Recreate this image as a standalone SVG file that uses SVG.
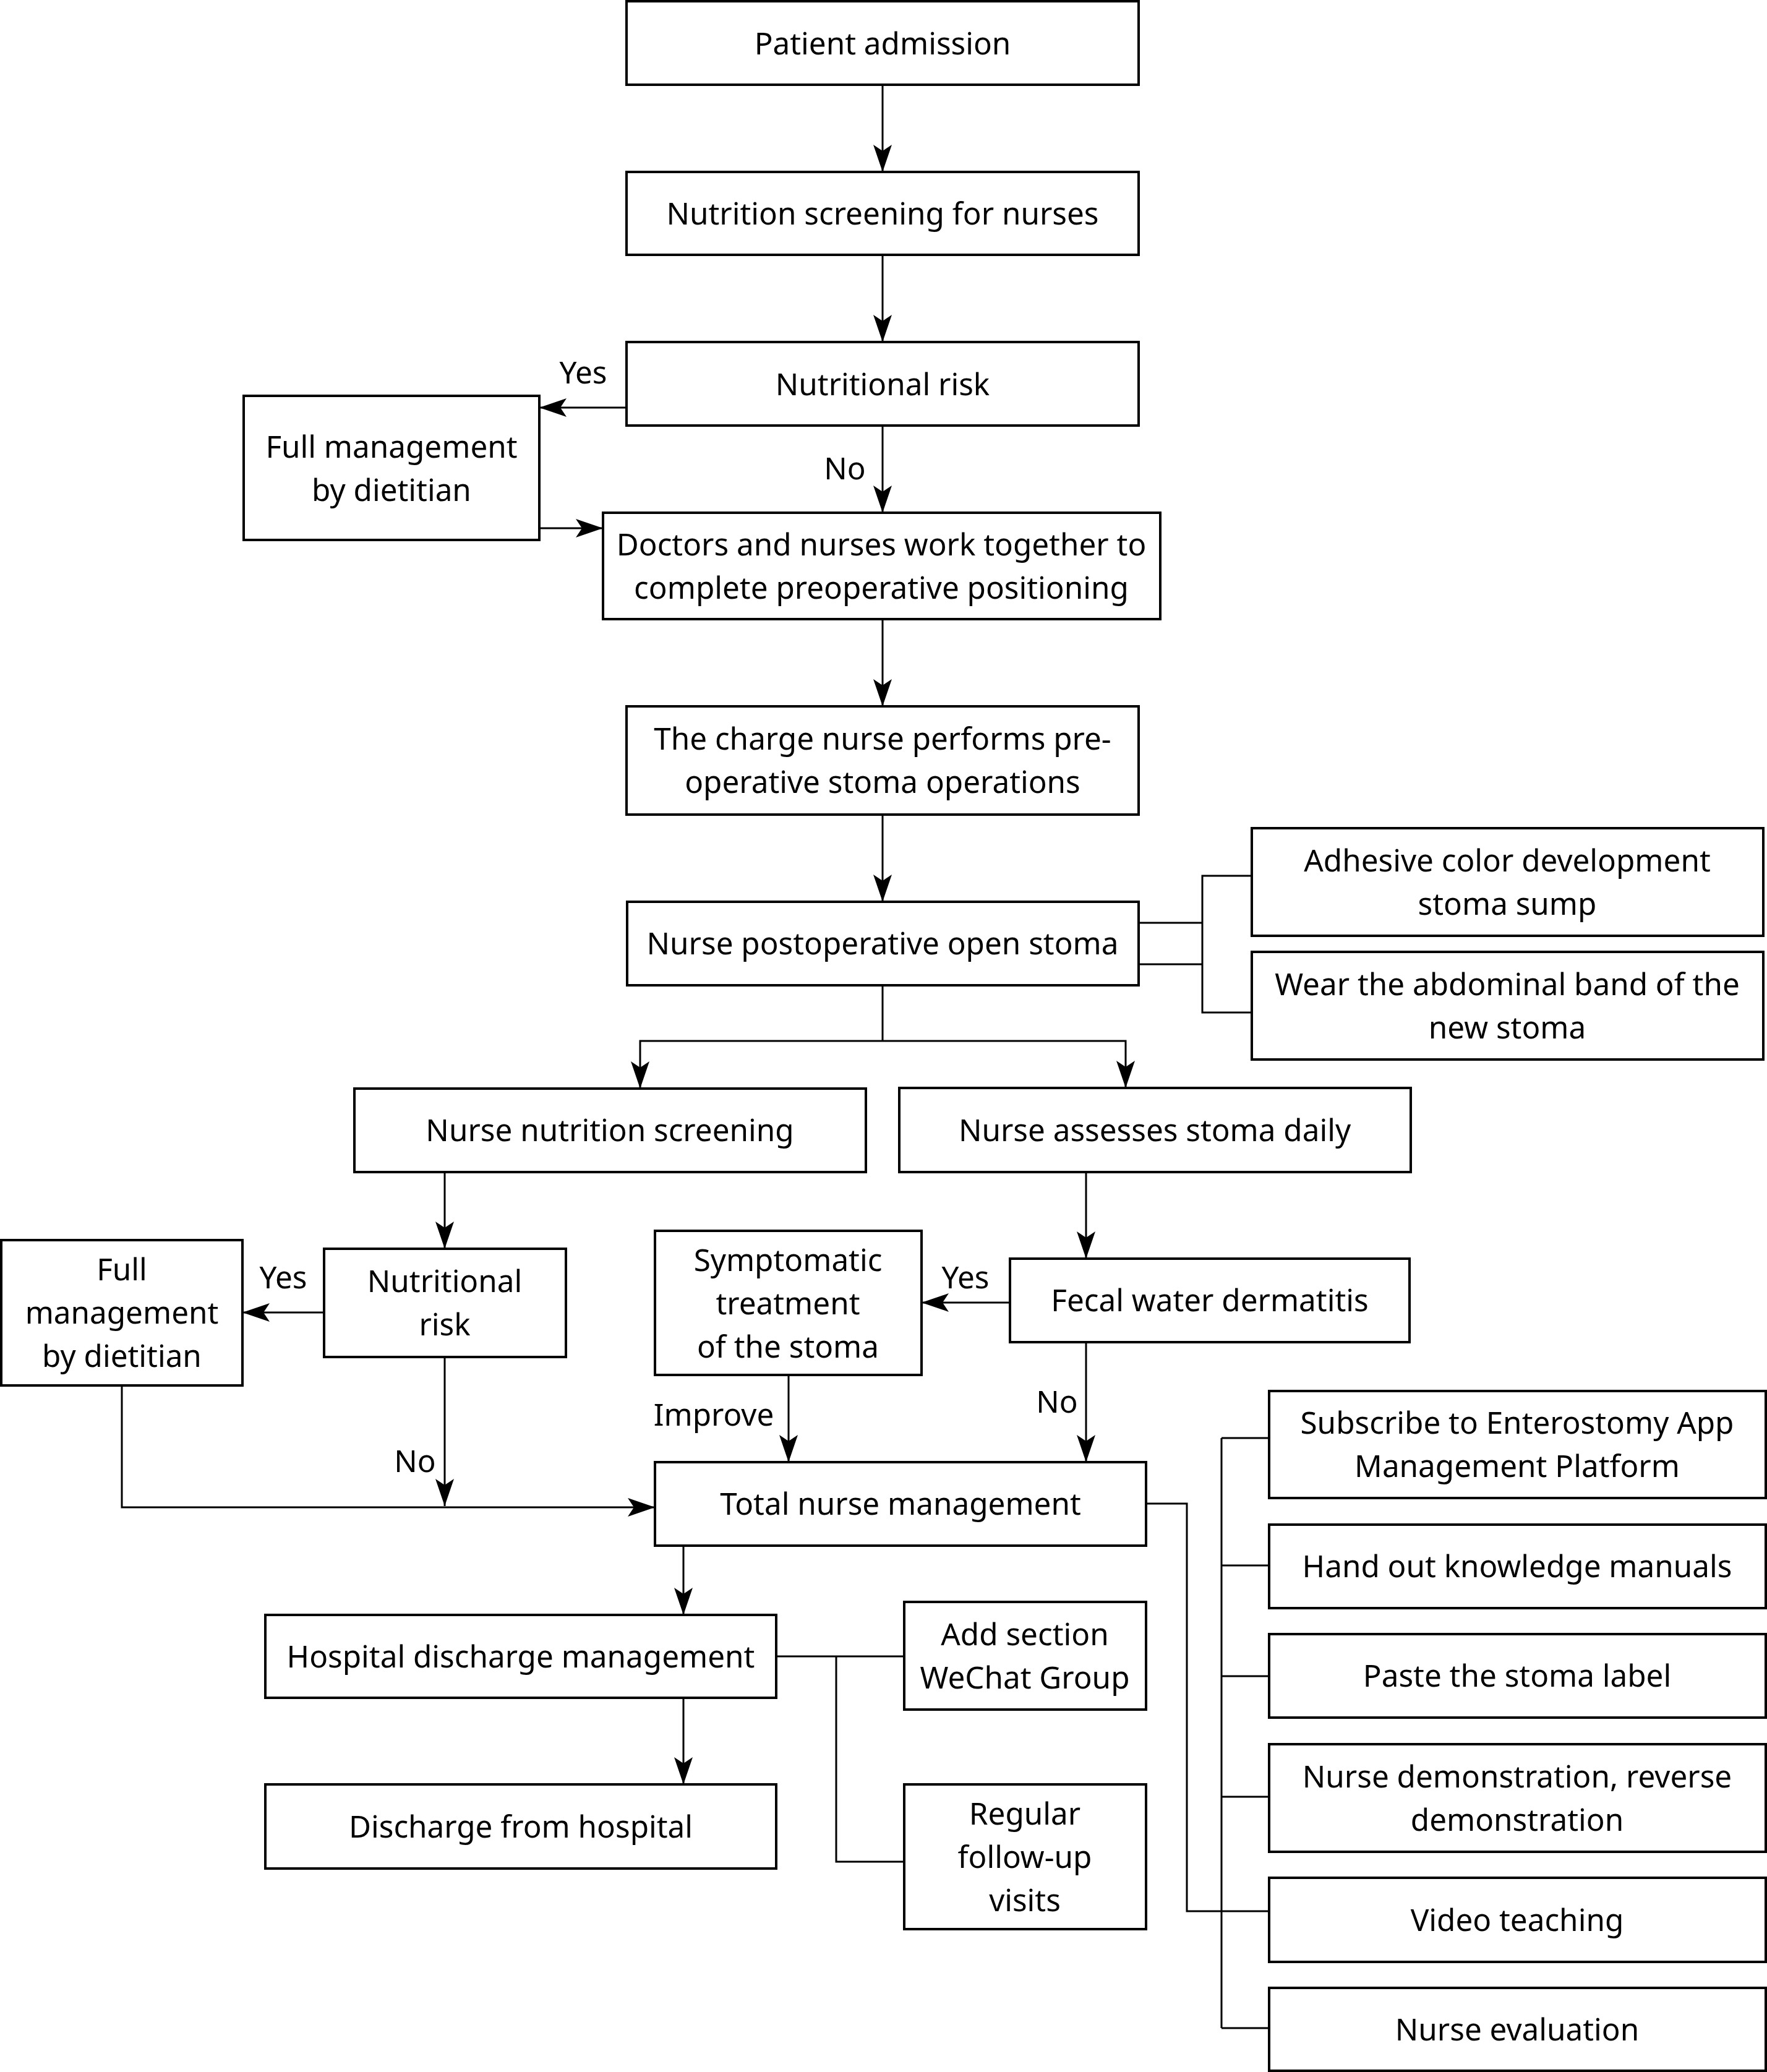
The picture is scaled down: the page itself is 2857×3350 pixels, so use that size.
<svg xmlns="http://www.w3.org/2000/svg" width="2857" height="3350" viewBox="0 0 2857 3350">
<style>
.box{fill:#fff;stroke:#000;stroke-width:4}
.t{font-family:"Noto Sans","Open Sans","DejaVu Sans",sans-serif;font-size:49.4px;fill:#000;text-anchor:middle}
.c{fill:none;stroke:#000;stroke-width:3}
.a{fill:none;stroke:#000;stroke-width:3;marker-end:url(#ah)}
</style>
<defs>
<marker id="ah" markerUnits="userSpaceOnUse" markerWidth="46" markerHeight="32" refX="44" refY="15" orient="auto" viewBox="0 0 46 32">
<path d="M0,0 L44,15 L0,30 L10,15 z" fill="#000"/>
</marker>
</defs>
<rect width="2857" height="3350" fill="#fff"/>
<g id="connectors">
<line class="a" x1="1427" y1="137" x2="1427" y2="278"/>
<line class="a" x1="1427" y1="412" x2="1427" y2="553"/>
<line class="a" x1="1013" y1="659" x2="872" y2="659"/>
<line class="a" x1="1427" y1="688" x2="1427" y2="829"/>
<line class="a" x1="872" y1="854" x2="975" y2="854"/>
<line class="a" x1="1427" y1="1001" x2="1427" y2="1142"/>
<line class="a" x1="1427" y1="1317" x2="1427" y2="1458"/>
<polyline class="c" points="1841,1492 1944,1492"/>
<polyline class="c" points="1841,1559 1944,1559"/>
<polyline class="c" points="2024,1416 1944,1416 1944,1637 2024,1637"/>
<line class="c" x1="1427" y1="1593" x2="1427" y2="1683"/>
<polyline class="a" points="1427,1683 1035,1683 1035,1760"/>
<polyline class="a" points="1427,1683 1820,1683 1820,1759"/>
<line class="a" x1="719" y1="1895" x2="719" y2="2019"/>
<line class="a" x1="524" y1="2122" x2="392" y2="2122"/>
<line class="a" x1="1756" y1="1895" x2="1756" y2="2035"/>
<line class="a" x1="1633" y1="2106" x2="1490" y2="2106"/>
<line class="a" x1="1756" y1="2170" x2="1756" y2="2364"/>
<line class="a" x1="1275" y1="2223" x2="1275" y2="2364"/>
<line class="a" x1="719" y1="2194" x2="719" y2="2435"/>
<polyline class="a" points="197,2240 197,2437 1059,2437"/>
<line class="a" x1="1105" y1="2499" x2="1105" y2="2611"/>
<line class="a" x1="1105" y1="2745" x2="1105" y2="2885"/>
<line class="c" x1="1255" y1="2678" x2="1462" y2="2678"/>
<polyline class="c" points="1352,2678 1352,3010 1462,3010"/>
<polyline class="c" points="1853,2431 1919,2431 1919,3090 1975,3090"/>
<line class="c" x1="1975" y1="2325" x2="1975" y2="3279"/>
<line class="c" x1="1975" y1="2325" x2="2052" y2="2325"/>
<line class="c" x1="1975" y1="2531" x2="2052" y2="2531"/>
<line class="c" x1="1975" y1="2710" x2="2052" y2="2710"/>
<line class="c" x1="1975" y1="2905" x2="2052" y2="2905"/>
<line class="c" x1="1975" y1="3090" x2="2052" y2="3090"/>
<line class="c" x1="1975" y1="3279" x2="2052" y2="3279"/>
<text class="t" x="943" y="620">Yes</text>
<text class="t" x="1366" y="775">No</text>
<text class="t" x="458" y="2083">Yes</text>
<text class="t" x="1561" y="2083">Yes</text>
<text class="t" x="1709" y="2284">No</text>
<text class="t" x="1154" y="2305">Improve</text>
<text class="t" x="671" y="2380">No</text>
</g>
<g id="n1"><rect class="box" x="1013" y="2" width="828" height="135"/><text class="t" x="1427" y="88">Patient admission</text></g>
<g id="n2"><rect class="box" x="1013" y="278" width="828" height="134"/><text class="t" x="1427" y="363">Nutrition screening for nurses</text></g>
<g id="n3"><rect class="box" x="1013" y="553" width="828" height="135"/><text class="t" x="1427" y="639">Nutritional risk</text></g>
<g id="n4"><rect class="box" x="394" y="640" width="478" height="233"/><text class="t" x="633" y="740">Full management</text><text class="t" x="633" y="810">by dietitian</text></g>
<g id="n5"><rect class="box" x="975" y="829" width="901" height="172"/><text class="t" x="1425" y="898">Doctors and nurses work together to</text><text class="t" x="1425" y="968">complete preoperative positioning</text></g>
<g id="n6"><rect class="box" x="1013" y="1142" width="828" height="175"/><text class="t" x="1427" y="1212">The charge nurse performs pre-</text><text class="t" x="1427" y="1282">operative stoma operations</text></g>
<g id="n7"><rect class="box" x="1014" y="1458" width="827" height="135"/><text class="t" x="1427" y="1543">Nurse postoperative open stoma</text></g>
<g id="n8"><rect class="box" x="2024" y="1339" width="827" height="174"/><text class="t" x="2437" y="1409">Adhesive color development</text><text class="t" x="2437" y="1479">stoma sump</text></g>
<g id="n9"><rect class="box" x="2024" y="1539" width="827" height="174"/><text class="t" x="2437" y="1609">Wear the abdominal band of the</text><text class="t" x="2437" y="1679">new stoma</text></g>
<g id="n10"><rect class="box" x="573" y="1760" width="827" height="135"/><text class="t" x="986" y="1845">Nurse nutrition screening</text></g>
<g id="n11"><rect class="box" x="1454" y="1759" width="827" height="136"/><text class="t" x="1867" y="1845">Nurse assesses stoma daily</text></g>
<g id="n12"><rect class="box" x="2" y="2005" width="390" height="235"/><text class="t" x="197" y="2070">Full</text><text class="t" x="197" y="2140">management</text><text class="t" x="197" y="2210">by dietitian</text></g>
<g id="n13"><rect class="box" x="524" y="2019" width="391" height="175"/><text class="t" x="719" y="2089">Nutritional</text><text class="t" x="719" y="2159">risk</text></g>
<g id="n14"><rect class="box" x="1059" y="1990" width="431" height="233"/><text class="t" x="1274" y="2055">Symptomatic</text><text class="t" x="1274" y="2125">treatment</text><text class="t" x="1274" y="2195">of the stoma</text></g>
<g id="n15"><rect class="box" x="1633" y="2035" width="646" height="135"/><text class="t" x="1956" y="2120">Fecal water dermatitis</text></g>
<g id="n16"><rect class="box" x="1059" y="2364" width="794" height="135"/><text class="t" x="1456" y="2449">Total nurse management</text></g>
<g id="n17"><rect class="box" x="429" y="2611" width="826" height="134"/><text class="t" x="842" y="2696">Hospital discharge management</text></g>
<g id="n18"><rect class="box" x="429" y="2885" width="826" height="136"/><text class="t" x="842" y="2971">Discharge from hospital</text></g>
<g id="n19"><rect class="box" x="1462" y="2590" width="391" height="174"/><text class="t" x="1657" y="2660">Add section</text><text class="t" x="1657" y="2730">WeChat Group</text></g>
<g id="n20"><rect class="box" x="1462" y="2885" width="391" height="234"/><text class="t" x="1657" y="2950">Regular</text><text class="t" x="1657" y="3020">follow-up</text><text class="t" x="1657" y="3090">visits</text></g>
<g id="n21"><rect class="box" x="2052" y="2249" width="803" height="173"/><text class="t" x="2453" y="2318">Subscribe to Enterostomy App</text><text class="t" x="2453" y="2388">Management Platform</text></g>
<g id="n22"><rect class="box" x="2052" y="2465" width="803" height="135"/><text class="t" x="2453" y="2550">Hand out knowledge manuals</text></g>
<g id="n23"><rect class="box" x="2052" y="2642" width="803" height="135"/><text class="t" x="2453" y="2727">Paste the stoma label</text></g>
<g id="n24"><rect class="box" x="2052" y="2820" width="803" height="174"/><text class="t" x="2453" y="2890">Nurse demonstration, reverse</text><text class="t" x="2453" y="2960">demonstration</text></g>
<g id="n25"><rect class="box" x="2052" y="3036" width="803" height="136"/><text class="t" x="2453" y="3122">Video teaching</text></g>
<g id="n26"><rect class="box" x="2052" y="3214" width="803" height="134"/><text class="t" x="2453" y="3299">Nurse evaluation</text></g>
</svg>
